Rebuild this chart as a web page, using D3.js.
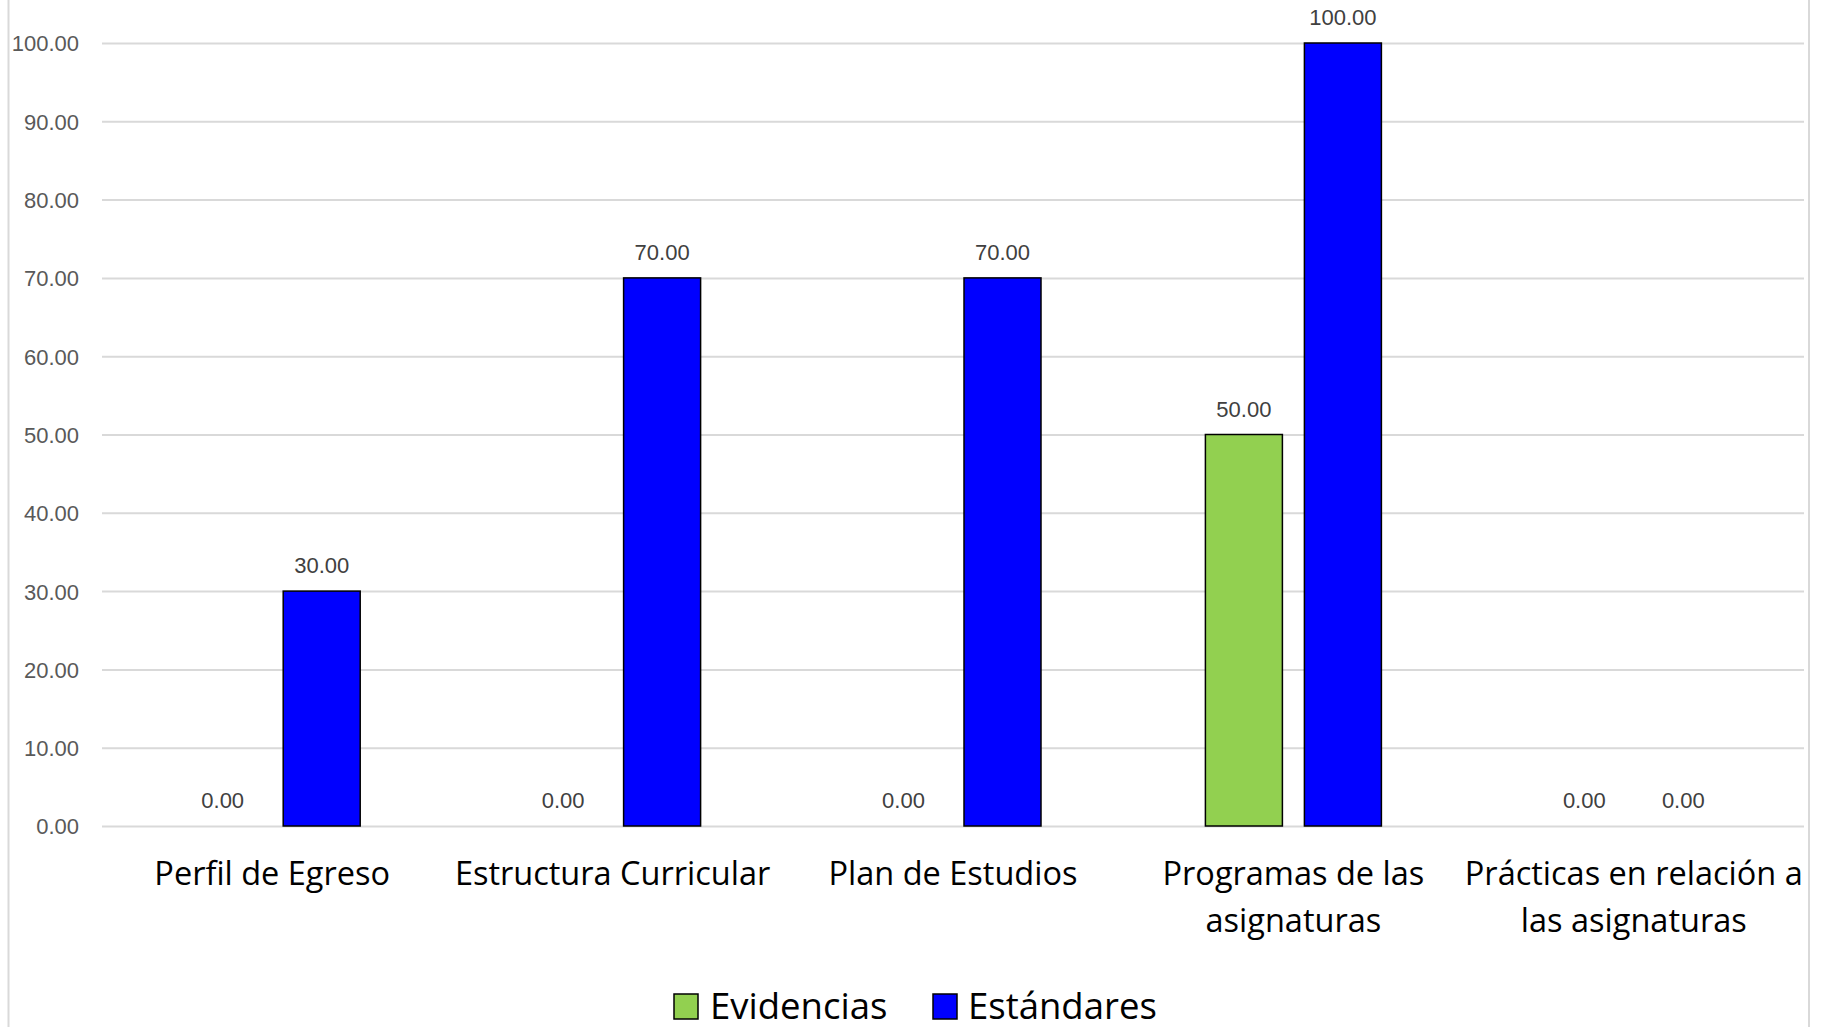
<!DOCTYPE html>
<html>
<head>
<meta charset="utf-8">
<script src="https://cdn.jsdelivr.net/npm/d3@7"></script>
<style>
  html, body { margin: 0; padding: 0; background: #fff; overflow: hidden; }
  svg { display: block; }
</style>
</head>
<body>
<svg id="chart" width="1822" height="1027"></svg>
<script>
const categories = [
  ["Perfil de Egreso"],
  ["Estructura Curricular"],
  ["Plan de Estudios"],
  ["Programas de las", "asignaturas"],
  ["Prácticas en relación a", "las asignaturas"]
];
const seriesNames = ["Evidencias", "Estándares"];
const evidencias = [0, 0, 0, 50, 0];
const estandares = [30, 70, 70, 100, 0];
const yTicks = [0, 10, 20, 30, 40, 50, 60, 70, 80, 90, 100];
const colors = ["#92d050", "#0000ff"];

const svg = d3.select("#chart");
const W = 1822, H = 1027;
const plot = { left: 102, right: 1804, top: 43, bottom: 826 };

// outer border lines
svg.append("line").attr("x1", 8.5).attr("x2", 8.5).attr("y1", 0).attr("y2", H)
  .attr("stroke", "#d9d9d9").attr("stroke-width", 2);
svg.append("line").attr("x1", 1809).attr("x2", 1809).attr("y1", 0).attr("y2", H)
  .attr("stroke", "#d9d9d9").attr("stroke-width", 2);

const catIdx = categories.map((c, i) => i);
const x = d3.scaleBand().domain(catIdx).range([plot.left, plot.right]).paddingInner(0).paddingOuter(0);
const y = d3.scaleLinear().domain([0, 100]).range([plot.bottom, plot.top]);

// grid
const yAxis = d3.axisLeft(y).tickValues(yTicks).tickSize(-(plot.right - plot.left)).tickPadding(23)
  .tickFormat(d3.format(".2f"));
const gy = svg.append("g").attr("transform", `translate(${plot.left},0)`).call(yAxis);
gy.select(".domain").remove();
gy.selectAll(".tick line").attr("stroke", "#d9d9d9").attr("stroke-width", 2);
gy.selectAll(".tick text").attr("fill", "#595959").attr("font-family", "'Liberation Sans', Arial, sans-serif")
  .attr("font-size", 22).attr("dy", "0.36em");

// bars
const barW = 77, offset = 49.5;
const data = [];
catIdx.forEach(i => {
  data.push({ i, s: 0, v: evidencias[i] });
  data.push({ i, s: 1, v: estandares[i] });
});
const cx = i => x(i) + x.bandwidth() / 2;
const bx = d => cx(d.i) + (d.s === 0 ? -offset : offset) - barW / 2;

svg.append("g").selectAll("rect").data(data.filter(d => d.v > 0)).join("rect")
  .attr("x", bx).attr("width", barW)
  .attr("y", d => y(d.v)).attr("height", d => y(0) - y(d.v))
  .attr("fill", d => colors[d.s]).attr("stroke", "#000").attr("stroke-width", 1.5);

// value labels
svg.append("g").selectAll("text").data(data).join("text")
  .attr("x", d => bx(d) + barW / 2).attr("y", d => y(d.v) - 18)
  .attr("text-anchor", "middle").attr("fill", "#404040")
  .attr("font-family", "'Liberation Sans', Arial, sans-serif").attr("font-size", 22)
  .text(d => d3.format(".2f")(d.v));

// category labels
const catG = svg.append("g");
categories.forEach((lines, i) => {
  const t = catG.append("text").attr("text-anchor", "middle")
    .attr("font-family", "'Open Sans', sans-serif").attr("font-size", 32.5).attr("fill", "#000");
  lines.forEach((ln, k) => {
    t.append("tspan").attr("x", cx(i)).attr("y", 885 + k * 46.5).text(ln);
  });
});

// legend
const legend = svg.append("g");
const legendItems = [
  { name: seriesNames[0], color: colors[0], sx: 674, tx: 710 },
  { name: seriesNames[1], color: colors[1], sx: 933, tx: 968 }
];
legendItems.forEach(it => {
  legend.append("rect").attr("x", it.sx).attr("y", 994).attr("width", 24).attr("height", 25)
    .attr("fill", it.color).attr("stroke", "#000").attr("stroke-width", 1.5);
  legend.append("text").attr("x", it.tx).attr("y", 1019)
    .attr("font-family", "'Open Sans', sans-serif").attr("font-size", 36.5).attr("fill", "#000")
    .text(it.name);
});
</script>
</body>
</html>
